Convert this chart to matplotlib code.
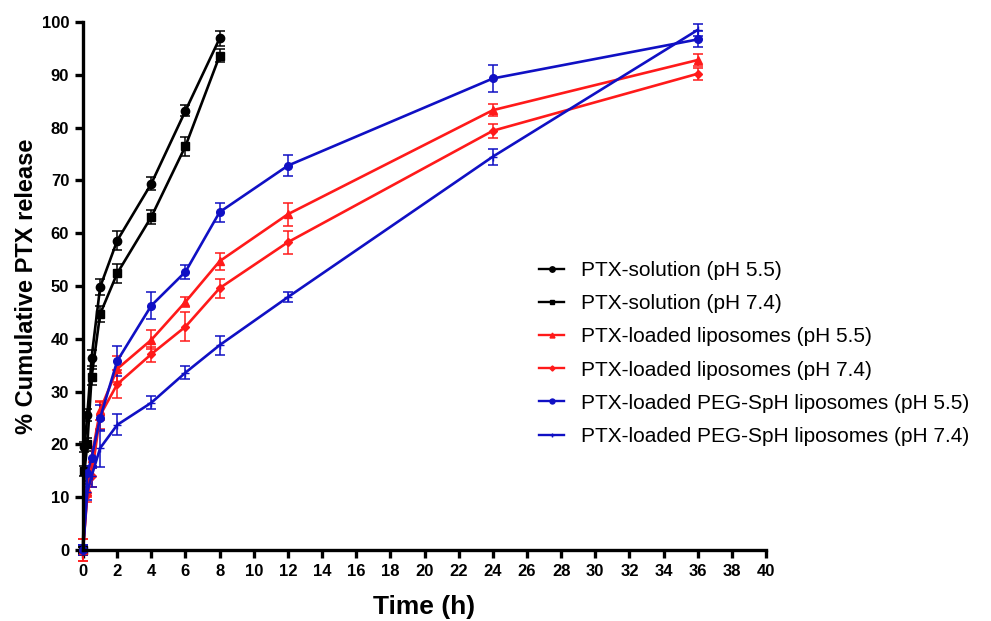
import matplotlib
matplotlib.use("Agg")
import matplotlib.pyplot as plt
from matplotlib.lines import Line2D

# sampling times (h)
t_sol = [0, 0.083, 0.25, 0.5, 1, 2, 4, 6, 8]
t_lip = [0, 0.25, 0.5, 1, 2, 4, 6, 8, 12, 24, 36]

# cumulative release (%) and SD
sol_55 = [0, 19.5, 25.6, 36.4, 49.8, 58.6, 69.4, 83.2, 96.9]
sol_55_sd = [0.5, 1.0, 1.2, 1.5, 1.5, 1.8, 1.2, 1.0, 1.4]
sol_74 = [0, 15.0, 20.0, 32.7, 44.7, 52.4, 63.1, 76.5, 93.6]
sol_74_sd = [0.5, 1.0, 1.2, 1.5, 1.5, 1.8, 1.3, 1.8, 1.2]

lip_55 = [0, 11.5, 17.5, 26.5, 34.3, 39.8, 47.0, 54.7, 63.6, 83.3, 92.8]
lip_55_sd = [2.0, 1.5, 2.0, 1.8, 2.4, 1.8, 1.0, 1.6, 2.2, 1.1, 1.2]
lip_74 = [0, 10.5, 14.0, 25.5, 31.4, 37.1, 42.3, 49.6, 58.3, 79.4, 90.2]
lip_74_sd = [2.0, 1.5, 2.0, 2.5, 2.6, 1.4, 2.7, 1.8, 2.2, 1.3, 1.1]

peg_55 = [0, 14.5, 17.5, 25.0, 35.8, 46.3, 52.7, 64.0, 72.8, 89.3, 96.7]
peg_55_sd = [1.0, 1.5, 2.0, 2.5, 2.8, 2.6, 1.3, 1.8, 2.0, 2.5, 1.5]
peg_74 = [0, 11.0, 14.0, 19.3, 23.7, 27.9, 33.6, 38.8, 47.9, 74.5, 98.5]
peg_74_sd = [1.0, 1.5, 2.0, 3.5, 2.0, 1.2, 1.3, 1.8, 0.9, 1.5, 1.2]

labels = ['PTX-solution (pH 5.5)', 'PTX-solution (pH 7.4)',
          'PTX-loaded liposomes (pH 5.5)', 'PTX-loaded liposomes (pH 7.4)',
          'PTX-loaded PEG-SpH liposomes (pH 5.5)', 'PTX-loaded PEG-SpH liposomes (pH 7.4)']

blue = '#1010c4'
red = '#ff1a1a'

fig = plt.figure(figsize=(9.91, 6.21), dpi=100)
ax = fig.add_axes([0.0838, 0.1143, 0.773 - 0.0838, 0.9646 - 0.1143])

series = [
    (t_sol, sol_55, sol_55_sd, 'black', 'o', 6),
    (t_sol, sol_74, sol_74_sd, 'black', 's', 5.5),
    (t_lip, lip_55, lip_55_sd, red, '^', 5.5),
    (t_lip, lip_74, lip_74_sd, red, 'D', 4),
    (t_lip, peg_55, peg_55_sd, blue, 'o', 5.5),
    (t_lip, peg_74, peg_74_sd, blue, '+', 5.5),
]
handles = []
for (t, y, sd, c, m, ms), lab in zip(series, labels):
    ax.errorbar(t, y, yerr=sd, color=c, marker=m, markersize=ms, lw=1.9,
                elinewidth=1.1, capsize=3.5, capthick=1.1, clip_on=False)
    handles.append(Line2D([], [], color=c, marker=m, markersize=ms * 0.65, lw=1.7, label=lab))

ax.set_xlim(0, 40)
ax.set_ylim(0, 100)
ax.set_xticks(range(0, 41, 2))
ax.set_yticks(range(0, 101, 10))
for s in ['top', 'right']:
    ax.spines[s].set_visible(False)
for s in ['left', 'bottom']:
    ax.spines[s].set_linewidth(2.4)
ax.tick_params(width=2.4, length=6, direction='out', pad=4)

for lbl in ax.get_xticklabels() + ax.get_yticklabels():
    lbl.set_fontfamily('Liberation Sans')
    lbl.set_fontweight('bold')
    lbl.set_fontsize(12)

ax.set_xlabel('Time (h)', fontfamily='Liberation Sans', fontweight='bold', fontsize=19)
ax.xaxis.set_label_coords(0.5, -0.085)
ax.set_ylabel('% Cumulative PTX release', fontfamily='Liberation Sans', fontweight='bold',
              fontsize=17)
ax.yaxis.set_label_coords(-0.066, 0.5)

leg = ax.legend(handles=handles, loc='upper left', bbox_to_anchor=(0.656, 0.563), frameon=False,
                prop={'family': 'Liberation Sans', 'size': 15}, borderaxespad=0,
                handlelength=1.2, labelspacing=0.68, handletextpad=0.8)

fig.savefig('out.png', dpi=100)
